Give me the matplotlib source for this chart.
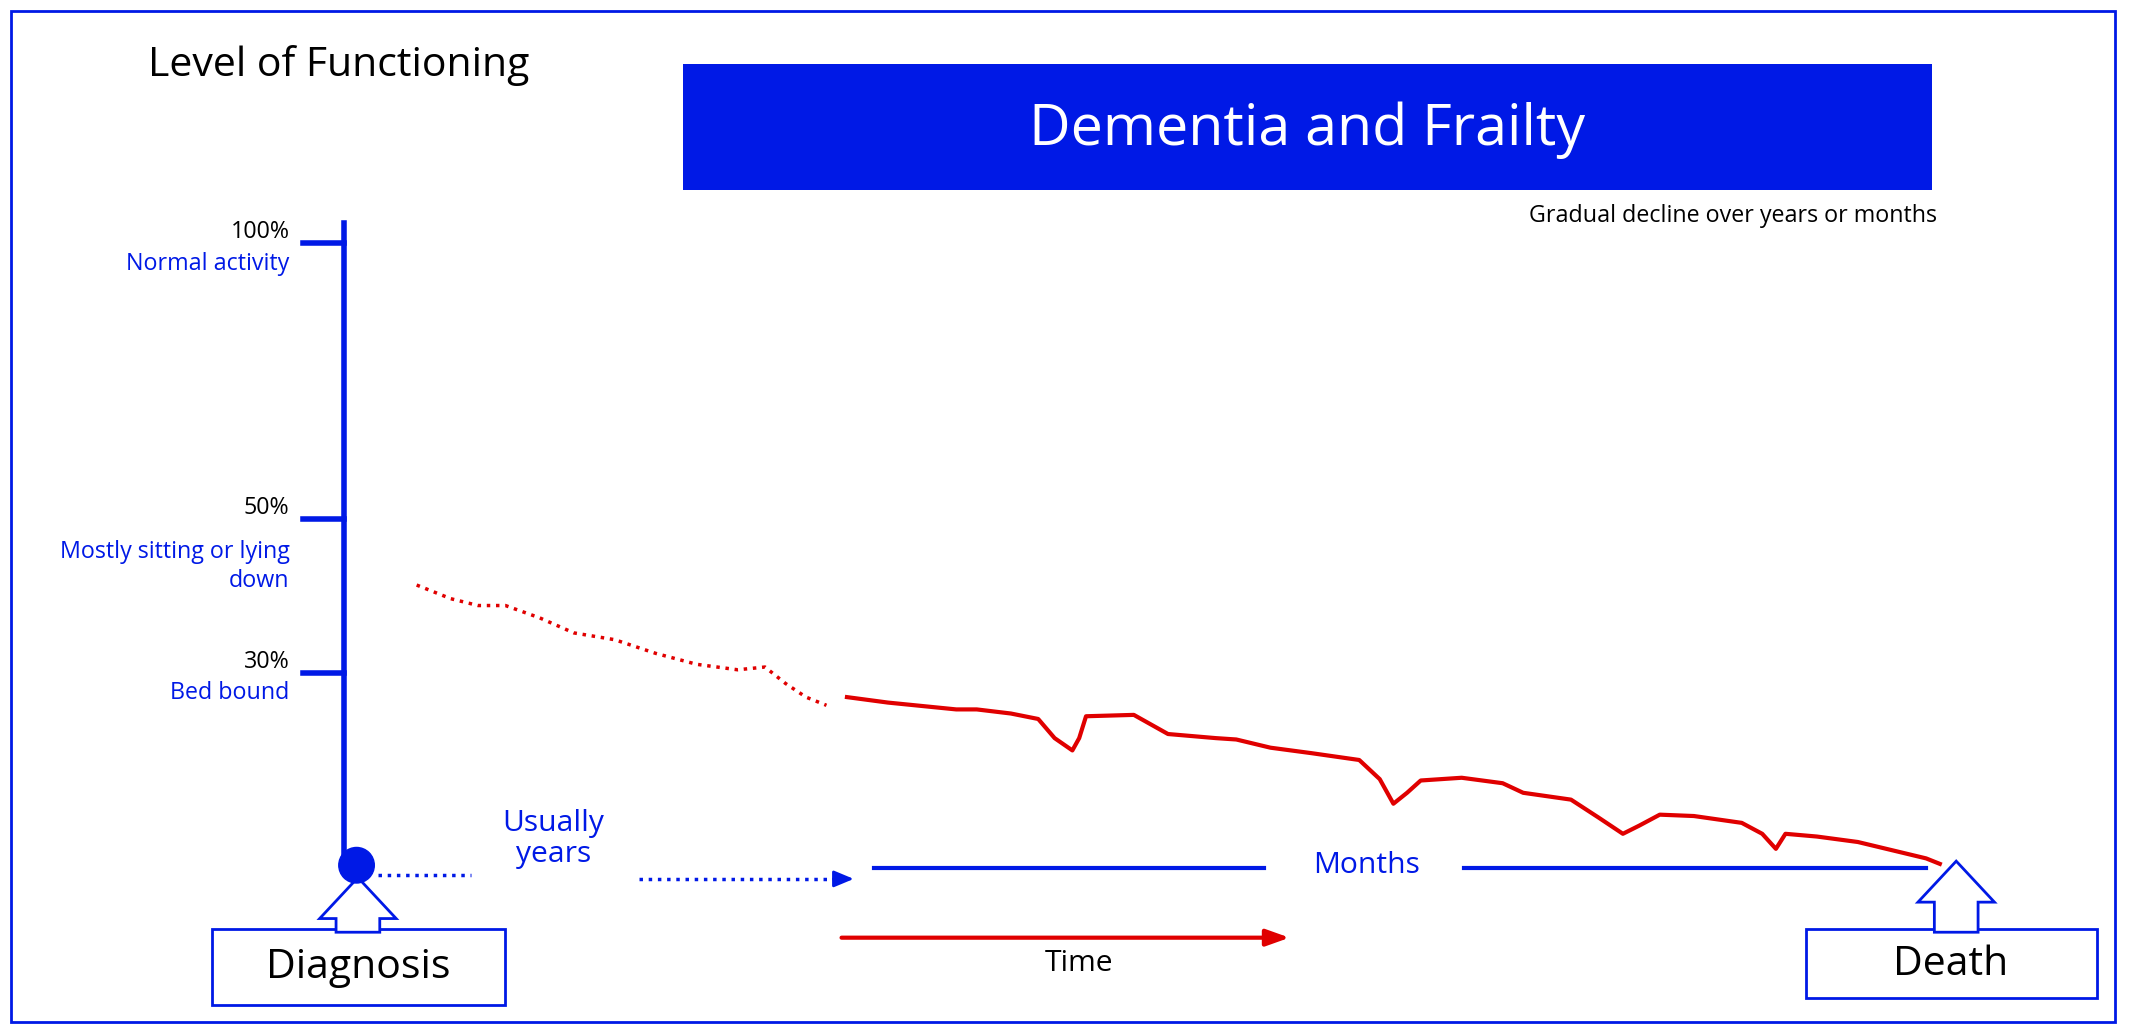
import matplotlib.pyplot as plt
from matplotlib.patches import Rectangle, Polygon, Circle

plt.rcParams['font.family'] = 'Open Sans'
BLUE = '#0019e6'
RED = '#e00000'
S = 2142 / 1568  # reference drawn on a 1568x755 grid

def fs(px):
    return px * S * 0.72

# level labels
tick_y = [178, 380, 492]
tick_pct = ['100%', '50%', '30%']
tick_desc = ['Normal activity', 'Mostly sitting or lying\ndown', 'Bed bound']

# trajectory (dotted early part, solid later part)
dot_x = [305, 330, 350, 370, 395, 420, 450, 480, 510, 540, 560, 575, 590, 605]
dot_y = [428, 438, 443, 443, 452, 463, 468, 478, 486, 490, 488, 500, 510, 516]
sol_x = [620, 650, 680, 700, 715, 740, 760, 772, 785, 790, 795, 830, 855, 890, 905, 930,
         960, 995, 1010, 1020, 1030, 1040, 1070, 1100, 1115, 1150, 1170, 1188, 1200, 1215,
         1240, 1275, 1290, 1300, 1307, 1330, 1360, 1385, 1410, 1420]
sol_y = [510, 514, 517, 519, 519, 522, 526, 540, 549, 540, 524, 523, 537, 540, 541, 547,
         551, 556, 570, 588, 580, 571, 569, 573, 580, 585, 598, 610, 604, 596,
         597, 602, 610, 621, 610, 612, 616, 622, 628, 632]

fig = plt.figure(figsize=(21.42, 10.32), dpi=100)
ax = fig.add_axes([0, 0, 1, 1])
ax.set_xlim(0, 1568)
ax.set_ylim(755, 0)
ax.axis('off')

ax.add_patch(Rectangle((8, 8), 1540, 740, fill=False, ec=BLUE, lw=2))
ax.text(108, 48, 'Level of Functioning', fontsize=fs(30), va='center')
ax.add_patch(Rectangle((500, 47), 914, 92, fc=BLUE, ec='none'))
ax.text(957, 95, 'Dementia and Frailty', fontsize=fs(42), color='white', ha='center', va='center')
ax.text(1418, 158, 'Gradual decline over years or months', fontsize=fs(17), ha='right', va='center')

# vertical axis
ax.plot([252, 252], [163, 633], color=BLUE, lw=4)
for y, p, d in zip(tick_y, tick_pct, tick_desc):
    ax.plot([222, 252], [y, y], color=BLUE, lw=4)
    ax.text(212, y - 8, p, fontsize=fs(17), ha='right', va='center')
    ax.text(212, y + 15, d, fontsize=fs(17), ha='right', va='top', color=BLUE,
            multialignment='right', linespacing=1.3)
    ax.texts[-1].set_va('center') if '\n' not in d else None

ax.plot(dot_x, dot_y, color=RED, lw=2.5, ls=':')
ax.plot(sol_x, sol_y, color=RED, lw=3)

ax.add_patch(Circle((261, 633), 13, color=BLUE, zorder=5))
ax.plot([277, 345], [640, 640], color=BLUE, lw=2.5, ls=':')
ax.text(405, 614, 'Usually\nyears', fontsize=fs(22), color=BLUE, ha='center', va='center', linespacing=1.1)
ax.plot([468, 612], [643, 643], color=BLUE, lw=2.5, ls=':')
ax.annotate('', xy=(627, 643), xytext=(608, 643),
            arrowprops=dict(arrowstyle='-|>,head_length=1.2,head_width=0.5', color=BLUE, lw=2))
ax.plot([640, 925], [635, 635], color=BLUE, lw=3)
ax.text(1000, 633, 'Months', fontsize=fs(22), color=BLUE, ha='center', va='center')
ax.plot([1072, 1410], [635, 635], color=BLUE, lw=3)

ax.annotate('', xy=(946, 686), xytext=(614, 686),
            arrowprops=dict(arrowstyle='-|>,head_length=1.4,head_width=0.5', color=RED, lw=3))
ax.text(790, 705, 'Time', fontsize=fs(22), ha='center', va='center')

def up_arrow(x, tip, base):
    pts = [(x, tip), (x + 28, tip + 30), (x + 16, tip + 30), (x + 16, base),
           (x - 16, base), (x - 16, tip + 30), (x - 28, tip + 30)]
    ax.add_patch(Polygon(pts, closed=True, fc='white', ec=BLUE, lw=2, zorder=4))

up_arrow(262, 642, 682)
ax.add_patch(Rectangle((155, 680), 215, 55, fc='white', ec=BLUE, lw=2, zorder=3))
ax.text(262, 708, 'Diagnosis', fontsize=fs(30), ha='center', va='center', zorder=6)
up_arrow(1432, 630, 682)
ax.add_patch(Rectangle((1322, 680), 213, 50, fc='white', ec=BLUE, lw=2, zorder=3))
ax.text(1428, 706, 'Death', fontsize=fs(30), ha='center', va='center', zorder=6)

fig.savefig('out.png', dpi=100)
